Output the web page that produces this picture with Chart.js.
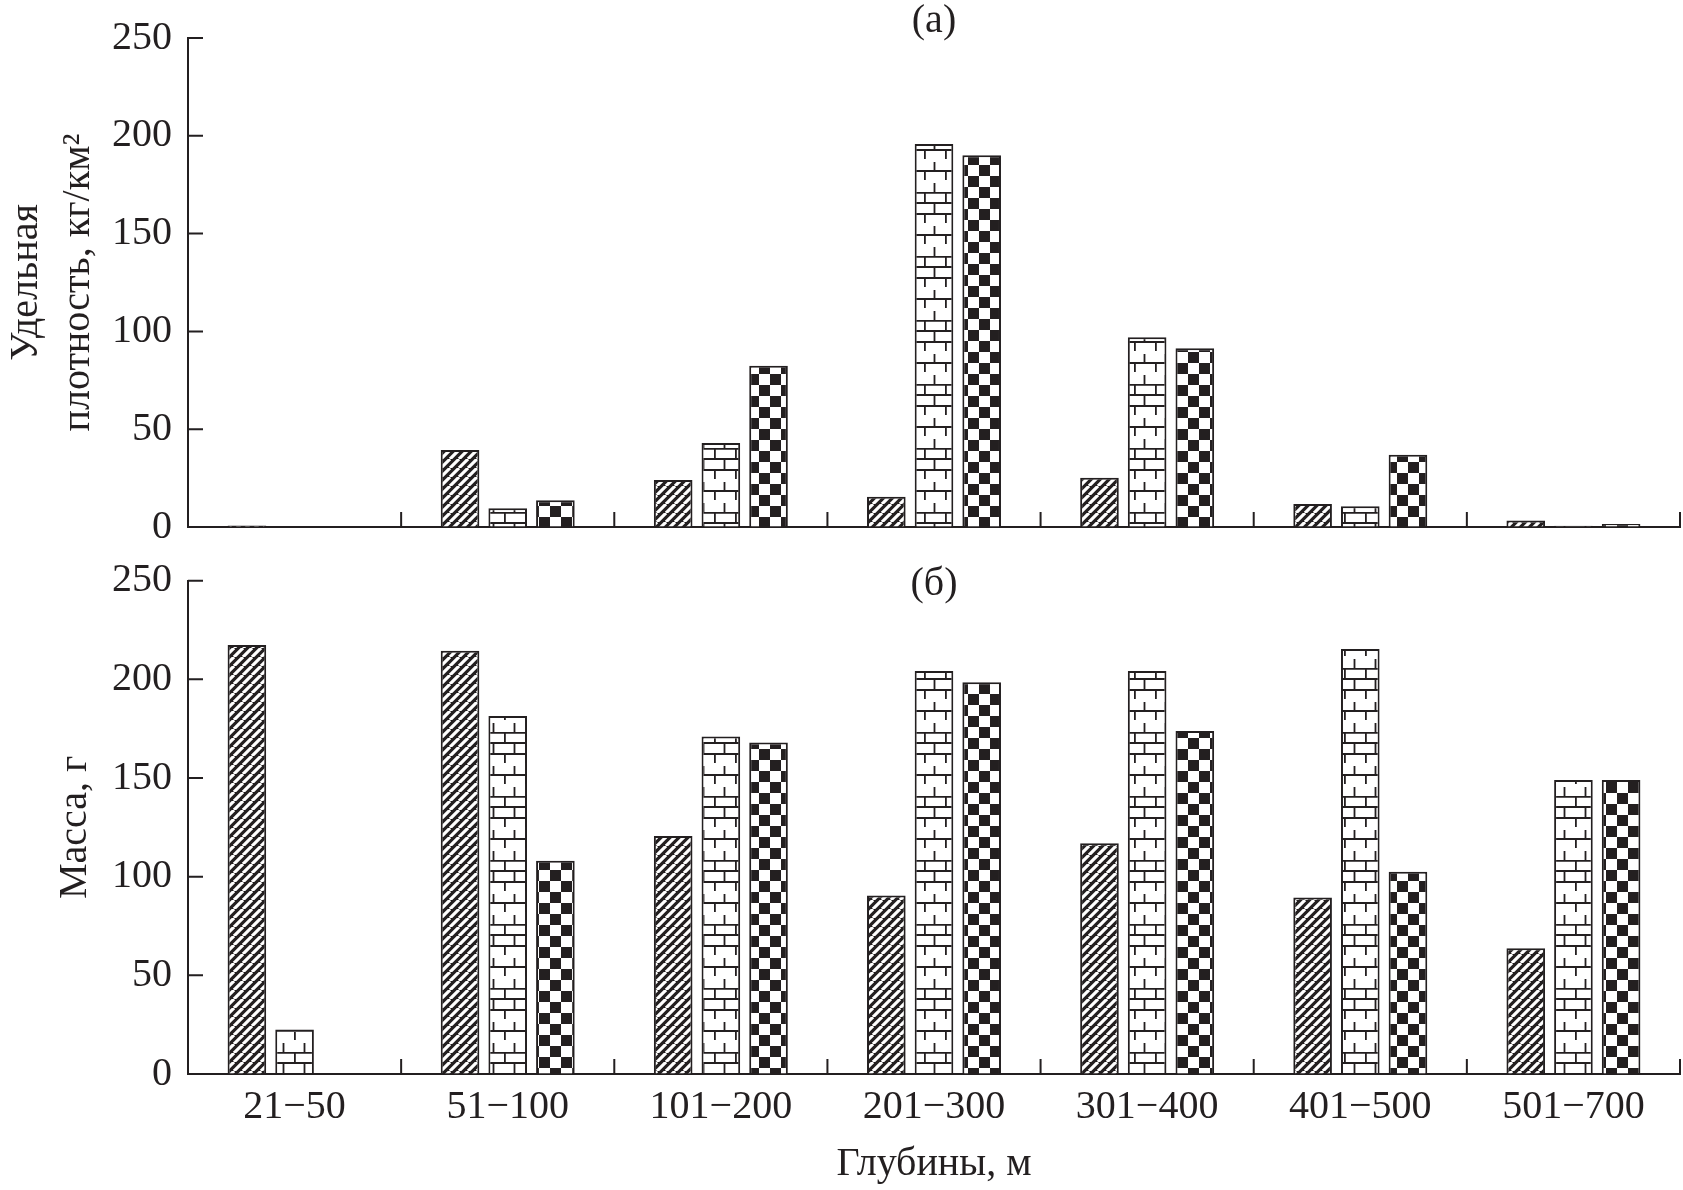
<!DOCTYPE html>
<html>
<head>
<meta charset="utf-8">
<script src="https://cdn.jsdelivr.net/npm/chart.js@4.4.1/dist/chart.umd.min.js"></script>
<style>
  html, body { margin: 0; padding: 0; background: #fff; }
  body { width: 1683px; height: 1190px; position: relative; overflow: hidden; }
  .panel { position: absolute; left: 0; width: 1683px; }
  #topPanel { top: 0; height: 567px; }
  #bottomPanel { top: 540px; height: 650px; }
</style>
</head>
<body>
<div class="panel" id="topPanel"><canvas id="densityChart"></canvas></div>
<div class="panel" id="bottomPanel"><canvas id="massChart"></canvas></div>
<script>
// глубины
const depthLabels = ['21−50', '51−100', '101−200', '201−300', '301−400', '401−500', '501−700'];

// (а) удельная плотность, кг/км2
const densityHatch = [0.8, 39.4, 24.0, 15.5, 25.2, 11.8, 3.3];
const densityBrick = [0, 9.6, 43.0, 195.8, 97.0, 10.6, 0.6];
const densityCheck = [0, 13.7, 82.4, 190.0, 91.4, 37.0, 1.5];

// (б) масса, г
const massHatch = [217.4, 214.5, 120.6, 90.4, 116.9, 89.4, 63.7];
const massBrick = [22.5, 181.4, 171.0, 204.3, 204.3, 215.4, 149.0];
const massCheck = [0, 108.1, 168.0, 198.5, 173.8, 102.5, 149.0];

const yMin = 0, yMax = 250, yStep = 50;

const INK = '#231f20';
const FONT = '"Liberation Serif", "Times New Roman", serif';

// текстуры столбиков
function makePattern(w, h, draw) {
  const c = document.createElement('canvas');
  c.width = w; c.height = h;
  const g = c.getContext('2d');
  g.fillStyle = '#fff';
  g.fillRect(0, 0, w, h);
  draw(g, w, h);
  return g.createPattern(c, 'repeat');
}

const hatchFill = makePattern(9, 9, (g, w, h) => {
  g.fillStyle = INK;
  g.fillRect(0, 0, w, h);
  g.strokeStyle = '#fff';
  g.lineWidth = 3.2;
  g.beginPath();
  [-w, 0, w].forEach((k) => { g.moveTo(k, h); g.lineTo(k + w, 0); });
  g.stroke();
});

const brickFill = makePattern(21, 64, (g) => {
  g.strokeStyle = INK;
  g.lineWidth = 1.8;
  g.beginPath();
  [0.9, 11, 22, 43].forEach((y) => { g.moveTo(0, y); g.lineTo(21, y); });
  // короткие ряды
  g.moveTo(0.9, 0); g.lineTo(0.9, 11);
  g.moveTo(10.5, 11); g.lineTo(10.5, 22);
  // высокие ряды с выступами
  g.moveTo(0.9, 22); g.lineTo(0.9, 31);
  g.moveTo(10.5, 34); g.lineTo(10.5, 43);
  g.moveTo(0.9, 43); g.lineTo(0.9, 52);
  g.moveTo(10.5, 55); g.lineTo(10.5, 64);
  g.stroke();
});

const checkFill = makePattern(22, 22, (g) => {
  g.fillStyle = INK;
  g.fillRect(0, 0, 11, 11);
  g.fillRect(11, 11, 11, 11);
});

// внутренние штрихи осей и буква панели
const innerTicks = {
  id: 'innerTicks',
  afterDraw(chart, args, opts) {
    const { ctx, chartArea, scales: { x, y } } = chart;
    ctx.save();
    ctx.strokeStyle = INK;
    ctx.lineWidth = 2;
    ctx.beginPath();
    y.ticks.forEach((t) => {
      const py = y.getPixelForValue(t.value);
      ctx.moveTo(chartArea.left, py);
      ctx.lineTo(chartArea.left + opts.length, py);
    });
    const n = x.ticks.length;
    for (let i = 1; i <= n; i++) {
      const px = x.left + (x.width * i) / n;
      ctx.moveTo(px, chartArea.bottom);
      ctx.lineTo(px, chartArea.bottom - opts.length);
    }
    ctx.stroke();
    ctx.fillStyle = INK;
    ctx.font = '40px ' + FONT;
    ctx.textAlign = 'center';
    ctx.textBaseline = 'middle';
    ctx.fillText(opts.letter, (chartArea.left + chartArea.right) / 2, chartArea.top + opts.letterOffset);
    ctx.restore();
  },
};

function makeDatasets(a, b, c) {
  const common = { borderColor: INK, borderWidth: 2, categoryPercentage: 0.671, barPercentage: 0.81 };
  return [
    { ...common, label: 'hatch', data: a, backgroundColor: hatchFill },
    { ...common, label: 'brick', data: b, backgroundColor: brickFill },
    { ...common, label: 'check', data: c, backgroundColor: checkFill },
  ];
}

function makeChart(canvasId, sets, cfg) {
  return new Chart(document.getElementById(canvasId), {
    type: 'bar',
    data: { labels: depthLabels, datasets: sets },
    options: {
      responsive: true,
      maintainAspectRatio: false,
      animation: false,
      layout: { padding: { top: cfg.padTop, right: 3, left: 0, bottom: 0 } },
      scales: {
        x: {
          afterFit: (s) => { s.height = cfg.xHeight; },
          grid: { display: true, drawOnChartArea: false, drawTicks: false },
          border: { display: true, color: INK, width: 2 },
          ticks: {
            display: cfg.showX,
            padding: 9,
            color: INK,
            font: { family: FONT, size: 40 },
          },
          title: {
            display: cfg.showX,
            text: 'Глубины, м',
            color: INK,
            font: { family: FONT, size: 40, lineHeight: 1.2 },
            padding: { top: 0, bottom: 2 },
          },
        },
        y: {
          min: yMin,
          max: yMax,
          afterFit: (s) => { s.width = 188; },
          grid: { display: true, drawOnChartArea: false, drawTicks: false },
          border: { display: true, color: INK, width: 2 },
          ticks: {
            stepSize: yStep,
            padding: 16,
            color: INK,
            font: { family: FONT, size: 40, lineHeight: 1 },
          },
          title: {
            display: true,
            text: cfg.yTitle,
            color: INK,
            font: { family: FONT, size: 40, lineHeight: cfg.yLineHeight },
            padding: { top: cfg.yTitlePad, bottom: 0 },
          },
        },
      },
      plugins: {
        legend: { display: false },
        tooltip: { enabled: false },
        innerTicks: { length: 15, letter: cfg.letter, letterOffset: cfg.letterOffset },
      },
    },
    plugins: [innerTicks],
  });
}

makeChart('densityChart', makeDatasets(densityHatch, densityBrick, densityCheck), {
  padTop: 38, xHeight: 40, showX: false,
  yTitle: ['Удельная', 'плотность, кг/км²'], yLineHeight: 1.3, yTitlePad: 0,
  letter: '(а)', letterOffset: -17,
});

makeChart('massChart', makeDatasets(massHatch, massBrick, massCheck), {
  padTop: 40.7, xHeight: 116, showX: true,
  yTitle: 'Масса, г', yLineHeight: 1.2, yTitlePad: 51,
  letter: '(б)', letterOffset: 4,
});
</script>
</body>
</html>
